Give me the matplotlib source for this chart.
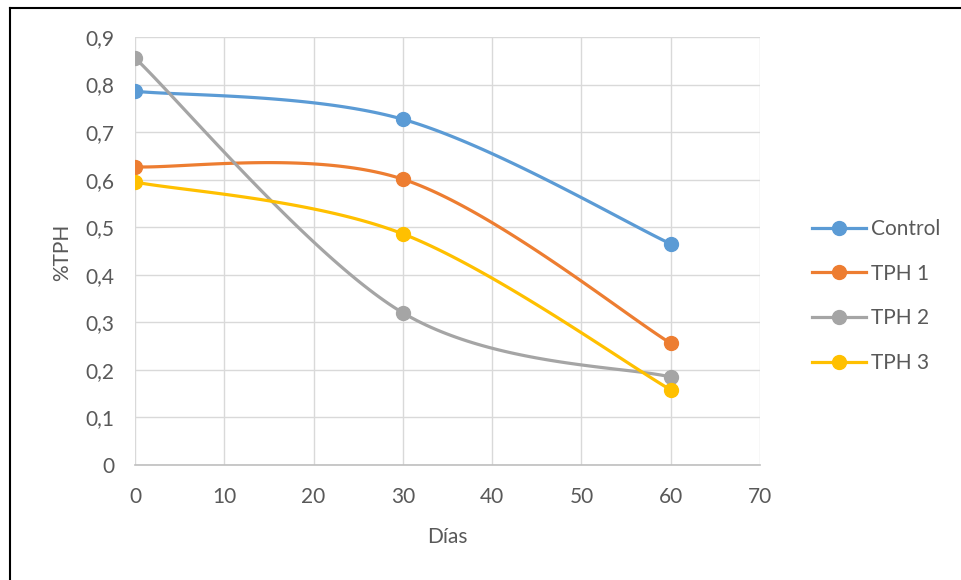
import matplotlib
matplotlib.use("Agg")
import matplotlib.pyplot as plt
import matplotlib.ticker as mticker
from matplotlib.lines import Line2D
import numpy as np

FONT = ["Lato", "DejaVu Sans"]
TEXT_C = "#595959"
GRID_C = "#d9d9d9"
FS = 15

dias = [0, 30, 60]
control = [0.786, 0.727, 0.465]
tph1 = [0.627, 0.601, 0.256]
tph2 = [0.856, 0.320, 0.185]
tph3 = [0.595, 0.486, 0.158]

series = [
    ("Control", control, "#5B9BD5"),
    ("TPH 1", tph1, "#ED7D31"),
    ("TPH 2", tph2, "#A5A5A5"),
    ("TPH 3", tph3, "#FFC000"),
]


def excel_smooth(xs, ys, n=60):
    """Bezier smoothing like Excel's 'smoothed line' option."""
    p = np.column_stack([xs, ys]).astype(float)
    pts = [p[0]]
    for i in range(len(p) - 1):
        p0 = p[i - 1] if i > 0 else p[i]
        p3 = p[i + 2] if i + 2 < len(p) else p[i + 1]
        c1 = p[i] + (p[i + 1] - p0) / 6
        c2 = p[i + 1] - (p3 - p[i]) / 6
        t = np.linspace(0, 1, n)[1:, None]
        seg = ((1 - t) ** 3 * p[i] + 3 * (1 - t) ** 2 * t * c1
               + 3 * (1 - t) * t ** 2 * c2 + t ** 3 * p[i + 1])
        pts.extend(seg)
    pts = np.array(pts)
    return pts[:, 0], pts[:, 1]


W, H = 961, 580
fig = plt.figure(figsize=(W / 100, H / 100), dpi=100, facecolor="white")
ax = fig.add_axes([135 / W, 1 - 465 / H, 625 / W, 428 / H])

handles = []
for name, vals, col in series:
    sx, sy = excel_smooth(dias, vals)
    ax.plot(sx, sy, color=col, lw=2.3, zorder=3, solid_capstyle="round")
    ax.plot(dias, vals, "o", color=col, ms=10, zorder=4)
    handles.append(Line2D([0], [0], color=col, lw=2.3, marker="o", ms=10, label=name))

ax.set_xlim(0, 70)
ax.set_ylim(0, 0.9)
ax.set_xticks(np.arange(0, 71, 10))
ax.set_yticks(np.arange(0, 0.91, 0.1))
ax.yaxis.set_major_formatter(mticker.FuncFormatter(
    lambda v, _: "0" if abs(v) < 1e-9 else f"{v:.1f}".replace(".", ",")))
ax.grid(True, color=GRID_C, lw=1.0, zorder=0)
ax.set_axisbelow(True)
for s in ["top", "right", "left"]:
    ax.spines[s].set_visible(False)
ax.spines["bottom"].set_color("#bfbfbf")
ax.spines["bottom"].set_linewidth(1.2)
ax.tick_params(length=0, labelsize=FS, labelcolor=TEXT_C)
ax.tick_params(axis="x", pad=16)
ax.tick_params(axis="y", pad=15)
for lab in ax.get_xticklabels() + ax.get_yticklabels():
    lab.set_family(FONT)

# axis titles
fig.text(447 / W, 1 - 537 / H, "Días", ha="center", va="center",
         fontsize=FS, color=TEXT_C, family=FONT)
fig.text(62 / W, 1 - 252 / H, "%TPH", ha="center", va="center", rotation=90,
         fontsize=FS, color=TEXT_C, family=FONT)

leg = fig.legend(handles=handles, loc="center left",
                 bbox_to_anchor=(793 / W, 1 - 296 / H),
                 frameon=False, handlelength=2.6, handletextpad=0.25,
                 labelspacing=1.18, prop={"family": FONT, "size": FS})
for t in leg.get_texts():
    t.set_color(TEXT_C)

# outer chart frame (partially visible)
fig.add_artist(Line2D([10 / W, 10 / W], [0, 1 - 8 / H],
                      transform=fig.transFigure, color="black", lw=1.5))
fig.add_artist(Line2D([10 / W, 1], [1 - 8 / H, 1 - 8 / H],
                      transform=fig.transFigure, color="black", lw=1.5))

fig.savefig("out.png", dpi=100, facecolor="white")
